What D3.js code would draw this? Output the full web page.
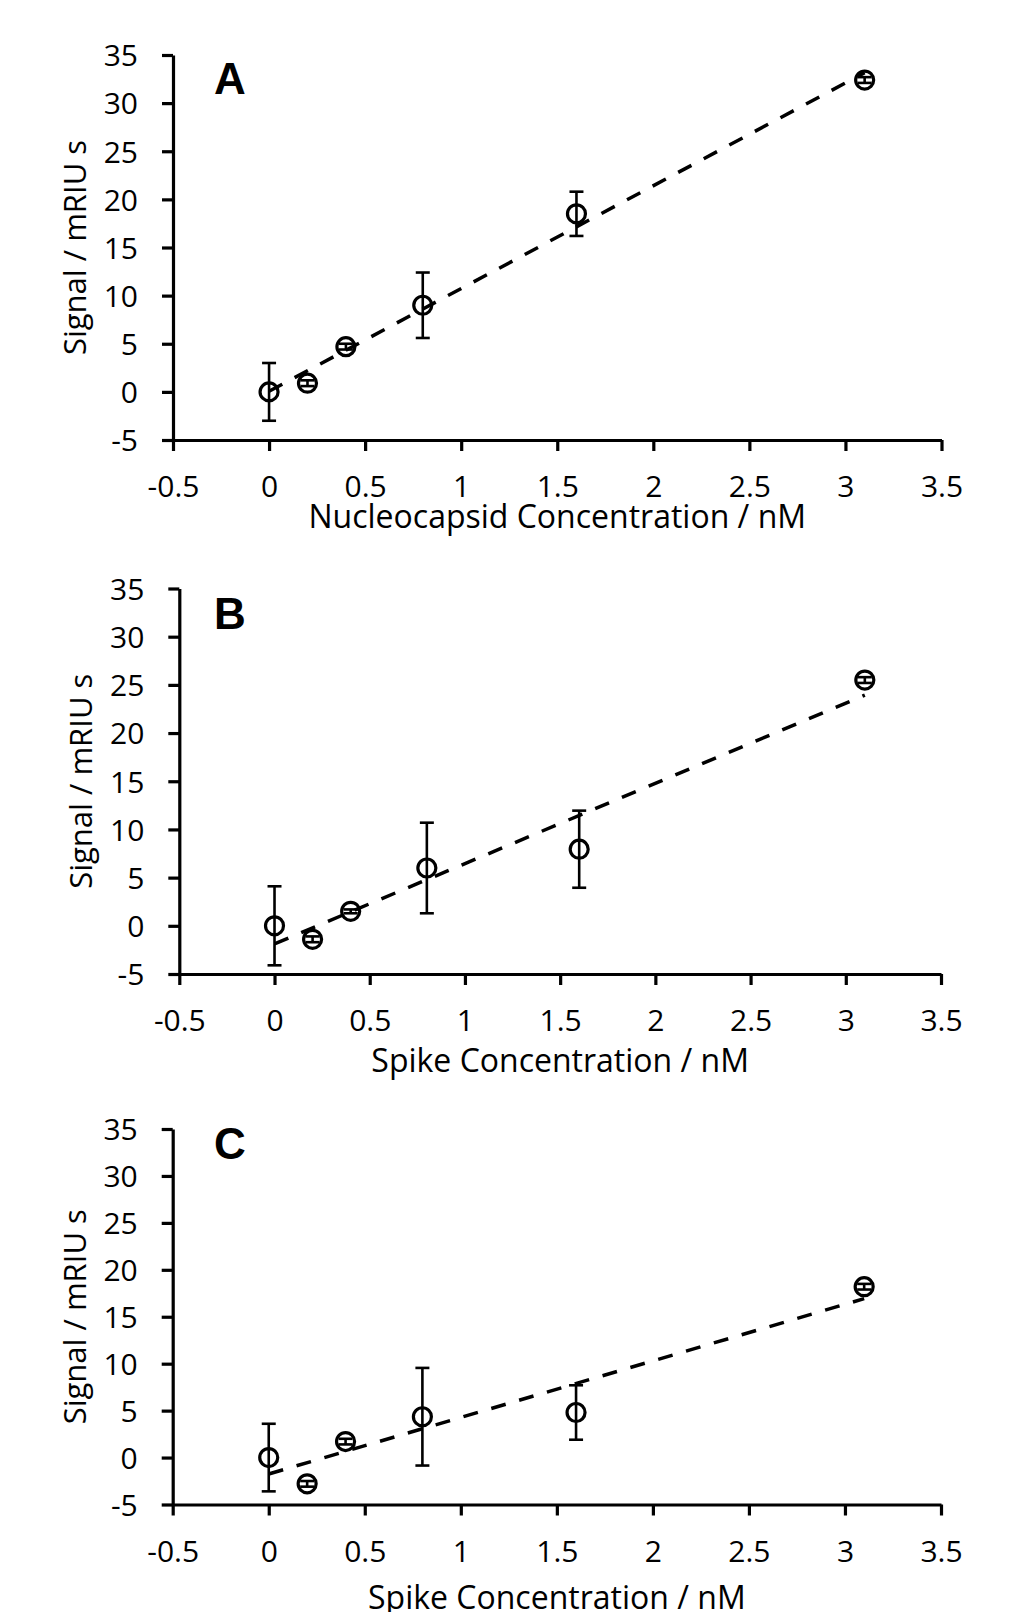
<!DOCTYPE html>
<html>
<head>
<meta charset="utf-8">
<script src="https://cdn.jsdelivr.net/npm/d3@7"></script>
<style>
  html, body { margin: 0; padding: 0; background: #fff; }
  svg { display: block; }
  text { font-family: "Open Sans", "Noto Sans", sans-serif; fill: #000; }
</style>
</head>
<body>
<svg id="chart" width="1024" height="1612"></svg>
<script>
// ---- data ----
const concentrations = [0, 0.2, 0.4, 0.8, 1.6, 3.1];

const signalA = [0, 0.9, 4.7, 9.0, 18.5, 32.4];
const errorA  = [3.0, 0.3, 0.3, 3.4, 2.3, 0.3];

const signalB = [0, -1.4, 1.5, 6.0, 7.95, 25.5];
const errorB  = [4.1, 0.3, 0.2, 4.7, 4.0, 0.3];

const signalC = [0, -2.8, 1.7, 4.35, 4.8, 18.2];
const errorC  = [3.6, 0.3, 0.3, 5.2, 2.9, 0.3];

const xTicks = [-0.5, 0, 0.5, 1, 1.5, 2, 2.5, 3, 3.5];
const yTicks = [-5, 0, 5, 10, 15, 20, 25, 30, 35];

const panelLetters = ["A", "B", "C"];
const xTitles = ["Nucleocapsid Concentration / nM", "Spike Concentration / nM", "Spike Concentration / nM"];
const yTitle = "Signal / mRIU s";

// ---- layout (pixel geometry of each panel) ----
const panels = [
  { letter: panelLetters[0], y: signalA, err: errorA, xTitle: xTitles[0],
    x0: 173, x1: 941.5, yTop: 55, yBot: 440, letterY: 93.5, xTitleOff: 87.7 },
  { letter: panelLetters[1], y: signalB, err: errorB, xTitle: xTitles[1],
    x0: 179.3, x1: 941, yTop: 588.5, yBot: 974, letterY: 628.5, xTitleOff: 97.7 },
  { letter: panelLetters[2], y: signalC, err: errorC, xTitle: xTitles[2],
    x0: 172.7, x1: 941, yTop: 1129, yBot: 1504.5, letterY: 1159, xTitleOff: 104 }
];

const svg = d3.select("#chart");

function linearFit(xs, ys) {
  const n = xs.length;
  const mx = d3.mean(xs), my = d3.mean(ys);
  let sxy = 0, sxx = 0;
  for (let i = 0; i < n; i++) { sxy += (xs[i]-mx)*(ys[i]-my); sxx += (xs[i]-mx)*(xs[i]-mx); }
  const slope = sxy / sxx;
  return { slope, intercept: my - slope * mx };
}

panels.forEach(p => {
  const x = d3.scaleLinear().domain([-0.5, 3.5]).range([p.x0, p.x1]);
  const y = d3.scaleLinear().domain([-5, 35]).range([p.yBot, p.yTop]);
  const g = svg.append("g");

  // y axis
  const yAxis = d3.axisLeft(y).tickValues(yTicks).tickSize(11).tickSizeOuter(0)
    .tickPadding(24).tickFormat(d => String(d));
  const gy = g.append("g").attr("transform", `translate(${p.x0},0)`).call(yAxis);
  // x axis
  const xAxis = d3.axisBottom(x).tickValues(xTicks).tickSize(11).tickSizeOuter(0)
    .tickPadding(25).tickFormat(d => String(d));
  const gx = g.append("g").attr("transform", `translate(0,${p.yBot})`).call(xAxis);

  [gx, gy].forEach(a => {
    a.select(".domain").attr("stroke", "#000").attr("stroke-width", 3.2);
    a.selectAll(".tick line").attr("stroke", "#000").attr("stroke-width", 3.2);
    a.selectAll(".tick text").style("font-family", '"Open Sans", sans-serif')
      .style("font-size", "30px").attr("fill", "#000");
  });
  gy.selectAll(".tick text").attr("dy", "0.36em");
  gx.selectAll(".tick text").attr("dy", "0.71em");

  // trend line (least squares linear fit of the data)
  const fit = linearFit(concentrations, p.y);
  const xs = [concentrations[0], concentrations[concentrations.length - 1]];
  g.append("path")
    .attr("d", d3.line().x(d => x(d)).y(d => y(fit.intercept + fit.slope * d))(xs))
    .attr("fill", "none").attr("stroke", "#000").attr("stroke-width", 3.5)
    .attr("stroke-dasharray", "15,14");

  // error bars
  const data = concentrations.map((c, i) => ({ c, v: p.y[i], e: p.err[i] }));
  const eb = g.append("g").attr("stroke", "#000").attr("stroke-width", 2.6);
  eb.selectAll("line.v").data(data).join("line").attr("class", "v")
    .attr("x1", d => x(d.c)).attr("x2", d => x(d.c))
    .attr("y1", d => y(d.v + d.e)).attr("y2", d => y(d.v - d.e));
  eb.selectAll("line.t").data(data).join("line").attr("class", "t")
    .attr("x1", d => x(d.c) - 7).attr("x2", d => x(d.c) + 7)
    .attr("y1", d => y(d.v + d.e)).attr("y2", d => y(d.v + d.e));
  eb.selectAll("line.b").data(data).join("line").attr("class", "b")
    .attr("x1", d => x(d.c) - 7).attr("x2", d => x(d.c) + 7)
    .attr("y1", d => y(d.v - d.e)).attr("y2", d => y(d.v - d.e));

  // markers
  g.selectAll("circle").data(data).join("circle")
    .attr("cx", d => x(d.c)).attr("cy", d => y(d.v)).attr("r", 9)
    .attr("fill", "none").attr("stroke", "#000").attr("stroke-width", 3.2);

  // titles
  g.append("text").attr("x", (p.x0 + p.x1) / 2).attr("y", p.yBot + p.xTitleOff)
    .attr("text-anchor", "middle").style("font-size", "32px").text(p.xTitle);
  g.append("text")
    .attr("transform", `translate(${p.x0 - 87},${(p.yTop + p.yBot) / 2}) rotate(-90)`)
    .attr("text-anchor", "middle").style("font-size", "31px").text(yTitle);

  // panel letter
  g.append("text").attr("x", 214).attr("y", p.letterY)
    .style("font-family", '"Liberation Sans", Arial, sans-serif')
    .style("font-weight", "bold").style("font-size", "44px").text(p.letter);
});
</script>
</body>
</html>
